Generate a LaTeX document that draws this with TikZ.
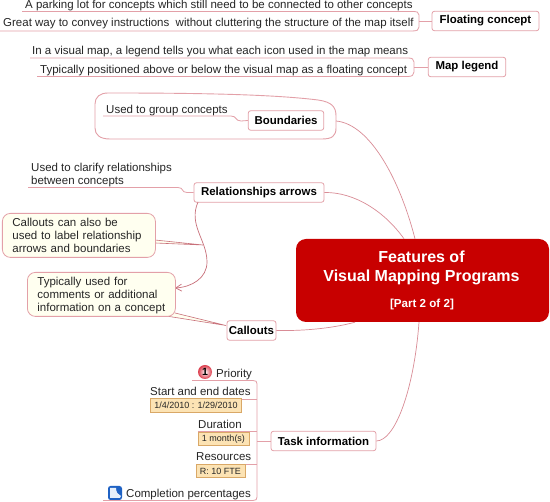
\documentclass[tikz,border=0pt]{standalone}
\usepackage{fontspec}
\setmainfont{Liberation Sans}
\usetikzlibrary{arrows.meta}
\definecolor{linkc}{HTML}{D98C96}
\definecolor{wedgec}{HTML}{C8707A}
\definecolor{edgec}{HTML}{E3A0A8}
\definecolor{inkc}{HTML}{262626}
\definecolor{redc}{HTML}{C80000}
\definecolor{noteb}{HTML}{FFFFF0}
\definecolor{tagb}{HTML}{FCE3B4}
\definecolor{tagd}{HTML}{D9A867}
\definecolor{iconb}{HTML}{1F62C4}
\definecolor{iconl}{HTML}{E6EFFA}
\definecolor{prioc}{HTML}{DC3C4C}
\tikzset{
  plain/.style={anchor=base west,inner sep=0pt,text=inkc,font=\fontsize{11.5}{14}\selectfont},
  topic/.style={draw=edgec,line width=.8pt,rounded corners=2.5pt,fill=white,text=black,font=\fontsize{11.45}{14}\selectfont\bfseries,inner sep=0pt,minimum height=19.5pt},
  note/.style={draw=edgec,line width=.8pt,rounded corners=8pt,fill=noteb,text=inkc,font=\fontsize{11.5}{12.6}\selectfont,align=left,inner sep=0pt,anchor=north west},
  tag/.style={draw=tagd,line width=.8pt,fill=tagb,text=inkc,font=\fontsize{9}{10}\selectfont,inner sep=0pt,minimum height=13.5pt},
  link/.style={draw=linkc,line width=.7pt},
  rule/.style={draw=edgec,line width=.8pt},
  wedge/.style={draw=wedgec,line width=.6pt,fill=noteb},
}
\begin{document}
\begin{tikzpicture}[x=1pt,y=-1pt]
\useasboundingbox (0,0) rectangle (550,502);
\fill[white] (0,0) rectangle (550,502);
% boundary
\draw[rule,line width=.9pt] (108,93) .. controls (190,93) and (270,94) .. (318,100) .. controls (332,102) and (336,107) .. (336,116) -- (336,128) .. controls (336,136) and (332,139) .. (322,139) -- (110,139) .. controls (100,139) and (95,135) .. (95,128) -- (95,104) .. controls (95,97) and (100,93) .. (108,93);
% central + topics
\node[draw=none,fill=redc,rounded corners=10pt,text=white,minimum width=253pt,minimum height=83pt,inner sep=0pt,align=center] (main) at (422.5,280.5) {};
\node[text=white,font=\fontsize{16}{18.2}\selectfont\bfseries,align=center,inner sep=0pt] (mainT) at (421.5,268) {Features of\\Visual Mapping Programs};
\node[text=white,font=\fontsize{11.6}{12}\selectfont\bfseries,inner sep=0pt] (mainS) at (422,304.5) {[Part 2 of 2]};
\node[topic,minimum width=107pt] (floating) at (485.5,21) {Floating concept};
\node[topic,minimum width=77.5pt] (legend) at (467,67) {Map legend};
\node[topic,minimum width=75.5pt] (bound) at (286,120.5) {Boundaries};
\node[topic,minimum width=130pt] (rel) at (259,192.5) {Relationships arrows};
\node[topic,minimum width=49pt] (call) at (251.5,330.5) {Callouts};
\node[topic,minimum width=105pt] (task) at (323.5,441) {Task information};
% main links
\coordinate (bj) at (336,121);
\draw[link] (bj) .. controls (370,124) and (400,180) .. (main.north -| 415,0);
\draw[link] (rel.east) .. controls (355,192) and (385,212) .. (main.north -| 404,0);
\draw[link] (call.east) .. controls (300,331) and (330,329) .. (main.south -| 355,0);
\draw[link] (task.east) .. controls (395,441) and (414,390) .. (main.south -| 419,0);
% floating
\node[plain] (t1) at (25,9) {A parking lot for concepts which still need to be connected to other concepts};
\node[plain] (t2) at (3,27) {Great way to convey instructions\ \ without cluttering the structure of the map itself};
\coordinate (fa) at (22,11.5); \coordinate (fb) at (0,31); \coordinate (fj) at (419,21);
\draw[rule] (fa) -- (412,11.5) .. controls (417,11.5) and (419,12) .. (419,15) -- (419,27) .. controls (419,30) and (417,31) .. (412,31) -- (fb);
\draw[rule] (fj) -- (floating.west);
% legend
\node[plain] (t3) at (32,55) {In a visual map, a legend tells you what each icon used in the map means};
\node[plain] (t4) at (40,73.5) {Typically positioned above or below the visual map as a floating concept};
\coordinate (la) at (30,58); \coordinate (lb) at (37,76.5); \coordinate (lj) at (414,67);
\draw[rule] (la) -- (408,58) .. controls (412,58) and (414,59) .. (414,62) -- (414,72) .. controls (414,75) and (412,76.5) .. (408,76.5) -- (lb);
\draw[rule] (lj) -- (legend.west);
% boundaries child
\node[plain] (t5) at (106,113.5) {Used to group concepts};
\coordinate (ba) at (103,116);
\draw[rule] (ba) -- (231,116) .. controls (237,116) and (235,121) .. (241,121) -- (bound.west);
% relationship child
\node[plain] (t6) at (31,172) {Used to clarify relationships};
\node[plain] (t7) at (31,185) {between concepts};
\coordinate (ra) at (28,187.5);
\draw[rule] (ra) -- (178,187.5) .. controls (184,187.5) and (181,192.5) .. (187,192.5) -- (rel.west);
% relationship arrow
\coordinate (ra1) at (198,202);
\coordinate (ra2) at (175,288);
\draw[link,draw=wedgec,-{Straight Barb[length=6pt,width=7pt]}] (ra1) .. controls (188,225) and (207,240) .. (207,262) .. controls (207,278) and (192,287) .. (ra2);
% callout wedges
\coordinate (w1) at (203,245);
\coordinate (w2) at (226,325.5);
\draw[wedge] (155,240) -- (w1) -- (155,243);
\draw[wedge] (175,313) -- (w2) -- (163,315.5);
% notes
\node[note,minimum width=153pt,minimum height=44pt,text width=153pt] (n1) at (2,213) {\hspace*{10pt}Callouts can also be\\\hspace*{10pt}used to label relationship\\\hspace*{10pt}arrows and boundaries};
\node[note,minimum width=148pt,minimum height=44pt,text width=148pt] (n2) at (27,272) {\rule{0pt}{10.4pt}\hspace*{10pt}Typically used for\\\hspace*{10pt}comments or additional\\\hspace*{10pt}information on a concept};
% task info
\coordinate (tj) at (257,441);
\draw[rule] (192,380.5) -- (253,380.5) .. controls (256,380.5) and (257,381.5) .. (257,384) -- (257,497) .. controls (257,499.5) and (256,500.5) .. (253,500.5) -- (103,500.5);
\draw[rule] (150,399) -- (257,399);
\draw[rule] (198,431.5) -- (257,431.5);
\draw[rule] (196,464) -- (257,464);
\draw[rule] (tj) -- (task.west);
\node[plain] (p1) at (216,377.5) {Priority};
\node[plain] (p2) at (150,396) {Start and end dates};
\node[plain] (p3) at (198,429) {Duration};
\node[plain] (p4) at (196,461) {Resources};
\node[plain] (p5) at (126,498) {Completion percentages};
\node[tag,minimum width=91.5pt] (g1) at (196,405.5) {1/4/2010 : 1/29/2010};
\node[tag,minimum width=51pt] (g2) at (223.5,439) {1 month(s)};
\node[tag,minimum width=49pt] (g3) at (220.5,471) {R: 10 FTE};
% icons
\node[circle,draw=none,inner sep=0pt,minimum size=14pt,shade,inner color=white,outer color=prioc,text=black,font=\fontsize{10.5}{10}\selectfont\bfseries] (ic1) at (205,372) {1};
\node[draw=none,fill=iconb,rounded corners=2.5pt,minimum size=14pt,inner sep=0pt] (ic2) at (115,493) {};
\fill[iconl] (110,488) -- (116,488) .. controls (116,492) and (118,495) .. (121,496) -- (120,498) -- (110,498) -- cycle;
\end{tikzpicture}
\end{document}
